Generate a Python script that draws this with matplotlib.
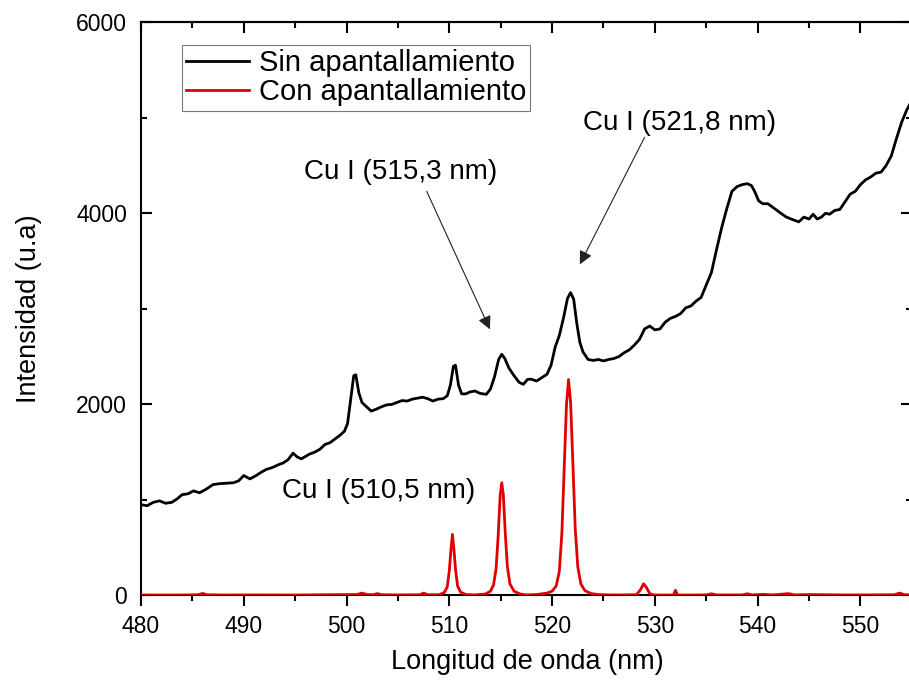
import matplotlib
matplotlib.use("Agg")
import matplotlib.pyplot as plt
from matplotlib.ticker import MultipleLocator

plt.rcParams['font.family'] = ['Liberation Sans', 'DejaVu Sans']

# Black curve: "Sin apantallamiento"
sin_x = [480.0, 480.6, 481.2, 481.8, 482.4, 483.0, 483.5, 484.0, 484.6, 485.1, 485.7, 486.3,
         487.0, 487.6, 488.3, 489.0, 489.5, 490.0, 490.6, 491.2, 491.7, 492.2, 492.8, 493.4,
         493.8, 494.3, 494.8, 495.2, 495.6, 496.0, 496.4, 496.9, 497.4, 497.9, 498.4, 498.9,
         499.4, 499.8, 500.1, 500.4, 500.7, 500.9, 501.2, 501.5, 501.9, 502.4, 502.9, 503.4,
         503.9, 504.4, 504.9, 505.4, 505.9, 506.4, 506.9, 507.4, 507.9, 508.4, 508.9, 509.4,
         509.8, 510.1, 510.4, 510.6, 510.9, 511.2, 511.6, 512.0, 512.5, 513.0, 513.6, 514.0,
         514.4, 514.8, 515.1, 515.4, 515.8, 516.3, 516.8, 517.2, 517.6, 517.9, 518.5, 519.0,
         519.5, 519.9, 520.3, 520.7, 521.1, 521.5, 521.8, 522.1, 522.4, 522.7, 523.0, 523.5,
         524.0, 524.5, 525.0, 525.5, 526.0, 526.5, 527.0, 527.5, 528.0, 528.5, 529.0, 529.5,
         530.0, 530.5, 531.0, 531.5, 532.0, 532.5, 533.0, 533.5, 534.0, 534.5, 535.0, 535.5,
         536.0, 536.5, 537.0, 537.5, 538.0, 538.5, 539.0, 539.4, 539.7, 540.1, 540.5, 541.0,
         541.5, 542.2, 542.8, 543.5, 544.0, 544.5, 545.0, 545.4, 545.8, 546.2, 546.6, 547.0,
         547.5, 548.0, 548.5, 549.0, 549.5, 550.0, 550.5, 551.0, 551.5, 552.0, 552.5, 553.0,
         553.5, 554.0, 554.5, 555.0]
sin_y = [950, 940, 975, 990, 965, 975, 1010, 1055, 1065, 1095, 1075, 1110,
         1160, 1170, 1175, 1180, 1200, 1255, 1220, 1255, 1290, 1320, 1340, 1370,
         1385, 1420, 1490, 1450, 1430, 1455, 1480, 1500, 1530, 1580, 1600, 1640,
         1680, 1720, 1800, 2050, 2300, 2310, 2120, 2020, 1980, 1930, 1950, 1975,
         1995, 2000, 2020, 2040, 2035, 2055, 2065, 2075, 2060, 2035, 2055, 2060,
         2090, 2200, 2400, 2410, 2200, 2110, 2110, 2130, 2140, 2115, 2105, 2160,
         2290, 2470, 2525, 2480, 2380, 2300, 2230, 2210, 2260, 2265, 2245, 2280,
         2315, 2410, 2600, 2720, 2900, 3110, 3170, 3100, 2850, 2650, 2550, 2470,
         2460, 2470, 2455, 2470, 2480, 2500, 2540, 2570, 2620, 2680, 2790, 2820,
         2780, 2790, 2860, 2900, 2920, 2950, 3010, 3030, 3080, 3120, 3250, 3380,
         3620, 3850, 4050, 4230, 4280, 4300, 4310, 4290, 4230, 4130, 4100, 4100,
         4060, 4005, 3960, 3930, 3910, 3960, 3940, 3990, 3940, 3960, 4000, 3990,
         4030, 4040, 4120, 4200, 4230, 4300, 4350, 4380, 4420, 4430, 4500, 4600,
         4780, 4950, 5080, 5180]

# Red curve: "Con apantallamiento"
con_x = [480.0, 484.0, 485.6, 486.0, 486.4, 488.0, 491.0, 495.0, 498.0, 501.0, 501.5, 502.0,
         502.6, 503.0, 503.4, 505.0, 507.1, 507.5, 507.9,
         509.0, 509.5, 509.8, 510.0, 510.15, 510.3, 510.45, 510.6, 510.8, 511.1, 511.6,
         512.5, 513.5, 514.0, 514.3, 514.55, 514.75, 514.95, 515.1, 515.25, 515.45, 515.65,
         515.9, 516.3, 516.9, 517.5, 518.5,
         519.5, 520.0, 520.4, 520.7, 520.95, 521.2, 521.4, 521.6, 521.8, 522.0, 522.25,
         522.5, 522.8, 523.2, 523.8, 524.5, 525.5, 527.0,
         528.2, 528.6, 528.9, 529.2, 529.5, 529.9, 531.0, 531.8, 532.0, 532.2, 533.5, 535.0,
         535.5, 536.0, 538.5, 539.0, 539.5, 540.5, 541.5, 543.0, 543.6, 545.0, 548.0, 551.0,
         553.3, 553.8, 554.3, 555.0]
con_y = [5, 5, 8, 22, 8, 5, 6, 5, 8, 10, 25, 10,
         8, 20, 8, 6, 8, 25, 8,
         8, 30, 90, 260, 470, 640, 480, 280, 100, 35, 10,
         6, 15, 45, 110, 280, 620, 1050, 1180, 1060, 640, 300,
         120, 45, 15, 6, 10,
         25, 45, 100, 250, 650, 1400, 2000, 2260, 2020, 1450, 700,
         300, 120, 50, 20, 10, 6, 6,
         8, 60, 122, 80, 20, 5, 5, 5, 55, 5, 5, 6,
         18, 6, 6, 18, 6, 12, 6, 20, 6, 10, 6, 6,
         8, 25, 8, 6]

x_ticks = [480, 490, 500, 510, 520, 530, 540, 550]
y_ticks = [0, 2000, 4000, 6000]

fig = plt.figure(figsize=(9.09, 6.87), dpi=100)
ax = fig.add_axes([0.1551, 0.1332, 0.848, 0.8345])

ax.plot(sin_x, sin_y, color='black', lw=2.0, label='Sin apantallamiento', zorder=3)
ax.plot(con_x, con_y, color='#e00000', lw=2.0, label='Con apantallamiento', zorder=4)

ax.set_xlim(480, 555)
ax.set_ylim(0, 6000)
ax.set_xticks(x_ticks)
ax.set_yticks(y_ticks)
ax.xaxis.set_minor_locator(MultipleLocator(5))
ax.yaxis.set_minor_locator(MultipleLocator(1000))

for s in ax.spines.values():
    s.set_linewidth(1.5)

ax.tick_params(axis='x', which='both', direction='out', top=False, labelsize=16.5, width=1.5, pad=6)
ax.tick_params(axis='x', which='major', length=8)
ax.tick_params(axis='x', which='minor', length=4)
ax.tick_params(axis='y', which='both', direction='in', right=True, labelsize=16.5, width=1.5, pad=10)
ax.tick_params(axis='y', which='major', length=8)
ax.tick_params(axis='y', which='minor', length=4)

# top ticks inward via secondary axis
top = ax.secondary_xaxis('top')
top.set_xticks(x_ticks)
top.xaxis.set_minor_locator(MultipleLocator(5))
top.tick_params(axis='x', which='both', direction='in', labeltop=False, width=1.5)
top.tick_params(axis='x', which='major', length=8)
top.tick_params(axis='x', which='minor', length=4)
top.spines['top'].set_linewidth(1.5)

ax.set_xlabel('Longitud de onda (nm)', fontsize=19.5)
ax.xaxis.set_label_coords(0.501, -0.094)
ax.set_ylabel('Intensidad (u.a)', fontsize=19.5)
ax.yaxis.set_label_coords(-0.128, 0.5)

leg = ax.legend(loc='upper left', bbox_to_anchor=(0.0532, 0.961), fontsize=21, frameon=True,
                fancybox=False, edgecolor='#555555', handlelength=2.15, handletextpad=0.33,
                borderpad=0.15, labelspacing=0.05, borderaxespad=0)
leg.get_frame().set_linewidth(0.8)

arrow_style = dict(arrowstyle='-|>', color='#222222', lw=0.8, mutation_scale=20,
                   shrinkA=0, shrinkB=0)
ax.annotate('', xy=(513.95, 2785), xytext=(507.8, 4230), arrowprops=arrow_style)
ax.annotate('', xy=(522.7, 3466), xytext=(529.0, 4795), arrowprops=arrow_style)
ax.text(505.3, 4430, 'Cu I (515,3 nm)', fontsize=20, ha='center', va='center')
ax.text(532.4, 4950, 'Cu I (521,8 nm)', fontsize=20, ha='center', va='center')
ax.text(503.1, 1090, 'Cu I (510,5 nm)', fontsize=20, ha='center', va='center')

fig.savefig('out.png', dpi=100)
